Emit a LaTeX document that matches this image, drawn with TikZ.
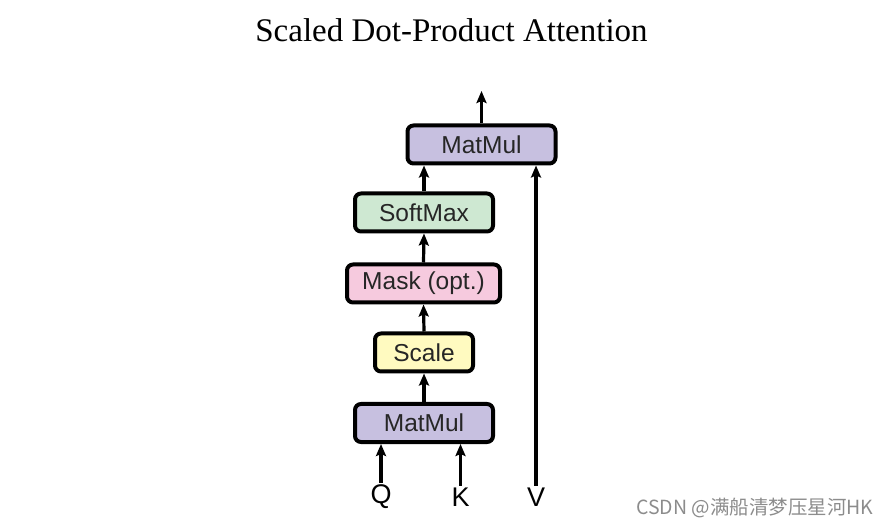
\documentclass[tikz,border=0pt]{standalone}
\usepackage{fontspec}
\setmainfont{Liberation Serif}
\newfontfamily\boxfont{Liberation Sans}
\newfontfamily\cjkfont{Noto Sans CJK SC}
\usetikzlibrary{positioning}
\usetikzlibrary{arrows.meta}

\definecolor{mmcol}{RGB}{199,192,224}
\definecolor{smcol}{RGB}{206,232,210}
\definecolor{maskcol}{RGB}{246,202,222}
\definecolor{scalecol}{RGB}{255,250,192}

\tikzset{
  opbox/.style={draw, line width=4pt, rounded corners=6pt, minimum height=38pt,
    inner sep=0pt, font=\boxfont\fontsize{24.5}{26}\selectfont, text=black!85},
  flow/.style={line width=3.2pt, -{Stealth[length=12pt,width=10pt,inset=2pt]}},
  inlabel/.style={inner sep=2pt, font=\boxfont\fontsize{27}{29}\selectfont}
}

\begin{document}
\begin{tikzpicture}[x=1pt,y=-1pt]
\useasboundingbox (0,0) rectangle (889,526);

\node (title) at (451.5,30) [font=\fontsize{33}{35}\selectfont] {Scaled Dot-Product Attention};

\node (mmtop) at (481.5,144.5) [opbox, fill=mmcol, minimum width=148pt] {MatMul};
\node (softmax) at (424,212.5) [opbox, fill=smcol, minimum width=138pt] {SoftMax};
\node (mask) at (423.5,283.5) [opbox, fill=maskcol, minimum width=153pt] {Mask (opt.)};
\node (scale) at (424,352.5) [opbox, fill=scalecol, minimum width=98pt] {Scale};
\node (mmbot) at (424,423) [opbox, fill=mmcol, minimum width=138pt] {MatMul};

\node (q) at (381,497) [inlabel] {Q};
\node (k) at (460.5,497) [inlabel] {K};
\node (v) at (536,497) [inlabel] {V};
\coordinate (out) at (481.5,91);

\draw[flow] (q.north) -- (q.north |- mmbot.south);
\draw[flow] (k.north) -- (k.north |- mmbot.south);
\draw[flow] (v.north) -- (v.north |- mmtop.south);

\draw[flow] (mmbot.north) -- (scale.south);
\draw[flow] (scale.north) -- (mask.south);
\draw[flow] (mask.north) -- (softmax.south);
\draw[flow] (softmax.north) -- (softmax.north |- mmtop.south);
\draw[flow] (mmtop.north) -- (out);

\node (mark) at (755,508) [text=black!45, font=\cjkfont\fontsize{19.5}{21}\selectfont] {CSDN @满船清梦压星河HK};

\end{tikzpicture}
\end{document}
